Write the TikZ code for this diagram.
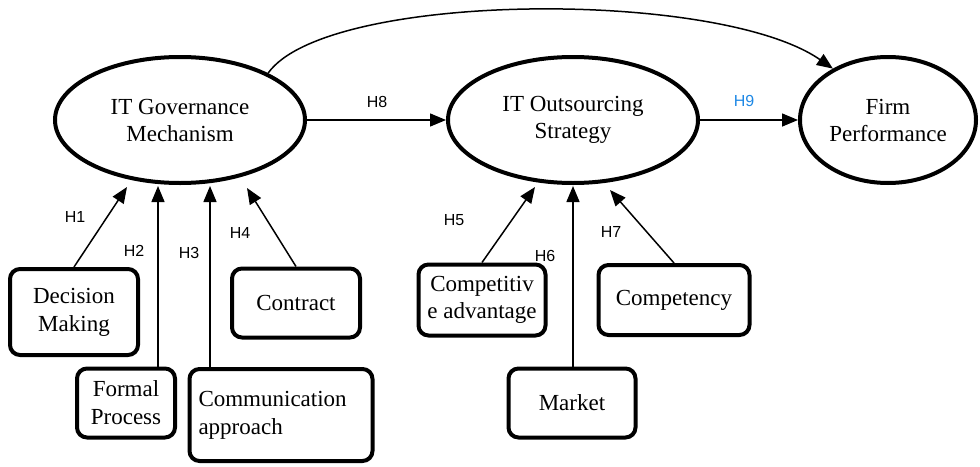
\documentclass[tikz,border=0pt]{standalone}
\usepackage{fontspec}
\setmainfont{Liberation Serif}
\newfontfamily\boxfont{Liberation Serif}
\newfontfamily\hfont{Liberation Sans}
\usetikzlibrary{shapes.geometric,arrows.meta}
\definecolor{hblue}{RGB}{30,136,229}
\begin{document}
\begin{tikzpicture}[x=1pt,y=-1pt,
  construct/.style={ellipse,draw,line width=4pt,inner sep=0pt,align=center,
    font=\boxfont\fontsize{23}{27}\selectfont},
  factor/.style={draw,line width=4pt,rounded corners=10pt,inner sep=0pt,align=center,
    font=\boxfont\fontsize{23}{28}\selectfont},
  link/.style={line width=1.5pt,-{Triangle[length=16pt,width=13pt]}},
  hyp/.style={font=\hfont\fontsize{16}{18}\selectfont,inner sep=0pt}]
\useasboundingbox (0,0) rectangle (980,466);

% latent constructs
\node[construct,minimum width=250pt,minimum height=126pt] (gov) at (180,120) {IT Governance\\Mechanism};
\node[construct,minimum width=250pt,minimum height=126pt] (out) at (573,120) {IT Outsourcing\\Strategy};
\node[construct,minimum width=176pt,minimum height=126pt] (firm) at (888,120) {Firm\\Performance};

% governance factors
\node[factor,minimum width=128pt,minimum height=86pt] (dm) at (74,312) {Decision\\Making};
\node[factor,minimum width=98pt,minimum height=69pt] (fp) at (126,403) {Formal\\Process};
\node[factor,minimum width=183pt,minimum height=92pt,text width=165pt,align=left] (cm) at (281,415) {Communication\\approach};
\node[factor,minimum width=128pt,minimum height=69pt] (ct) at (296,303) {Contract};

% outsourcing factors
\node[factor,minimum width=127pt,minimum height=71pt,font=\boxfont\fontsize{23}{27}\selectfont] (ca) at (482,300) {Competitiv\\e advantage};
\node[factor,minimum width=127pt,minimum height=69pt] (mk) at (572,403) {Market};
\node[factor,minimum width=151pt,minimum height=70pt] (cp) at (674,300) {Competency};

% arrow tips below the constructs
\coordinate (t1) at (127,187);
\coordinate (t2) at (158,186);
\coordinate (t3) at (210,186);
\coordinate (t4) at (247,188);
\coordinate (t5) at (535,187);
\coordinate (t6) at (573,186);
\coordinate (t7) at (610,190);

\draw[link] (dm.north) -- (t1);
\draw[link] (fp.north -| t2) -- (t2);
\draw[link] (cm.north -| t3) -- (t3);
\draw[link] (ct.north) -- (t4);
\draw[link] (ca.north) -- (t5);
\draw[link] (mk.north -| t6) -- (t6);
\draw[link] (cp.north) -- (t7);

\draw[link] (gov.east) -- (out.west);
\draw[link] (out.east) -- (firm.west);
\draw[link] (gov.28) .. controls +(58,-82) and +(-115,-80) .. (firm.137);

% hypothesis labels
\node[hyp] (h1) at (75,217) {H1};
\node[hyp] (h2) at (134,251) {H2};
\node[hyp] (h3) at (189,253) {H3};
\node[hyp] (h4) at (240,233) {H4};
\node[hyp] (h5) at (454,220) {H5};
\node[hyp] (h6) at (545,256) {H6};
\node[hyp] (h7) at (611,232) {H7};
\node[hyp] (h8) at (377,102) {H8};
\node[hyp,text=hblue] (h9) at (744,101) {H9};
\end{tikzpicture}
\end{document}
